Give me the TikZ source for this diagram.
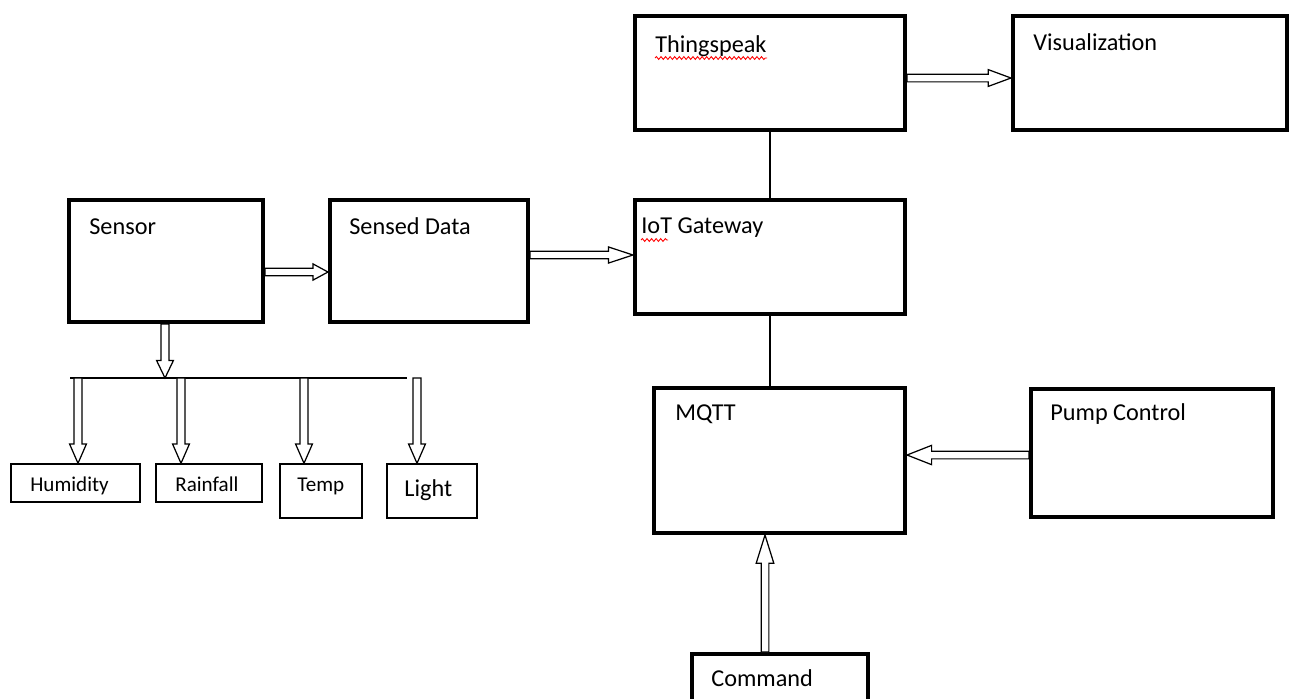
\documentclass[tikz,border=0pt]{standalone}
\usepackage{fontspec}
\setmainfont{Carlito}
\usetikzlibrary{calc,decorations.pathmorphing}
\tikzset{
  box/.style={draw, line width=2.3pt, inner sep=0pt},
  sbox/.style={draw, line width=0.8pt, inner sep=0pt},
  lbl/.style={anchor=base west, inner sep=0pt, font=\fontsize{13.8}{16}\selectfont},
  slbl/.style={anchor=base west, inner sep=0pt, font=\fontsize{12}{14}\selectfont},
  fat/.style={draw, line width=0.7pt, fill=white, line join=miter},
  link/.style={draw, line width=0.65pt},
  squig/.style={draw=red, line width=0.5pt, decorate, decoration={snake, amplitude=0.8pt, segment length=2.6pt}}
}
% from, to, shaft half width, head half width, head length
\newcommand{\fatarr}[5]{%
  \path ($(#2)!#5!(#1)$) coordinate (fa-c);
  \path[fat] ($(#1)!#3!90:(#2)$) -- ($(fa-c)!#3!90:(#2)$) -- ($(fa-c)!#4!90:(#2)$)
    -- (#2) -- ($(fa-c)!#4!-90:(#2)$) -- ($(fa-c)!#3!-90:(#2)$) -- ($(#1)!#3!-90:(#2)$) -- cycle;
}
% name, x1, y1, x2, y2 (line centre, px)
\newcommand{\bx}[6]{%
  \node[#6, minimum width={(#4-#2)*0.02cm}, minimum height={(#5-#3)*0.02cm}] (#1) at ({(#2+#4)/2},{(#3+#5)/2}) {};
}
\begin{document}
\begin{tikzpicture}[x=0.02cm, y=-0.02cm]
\useasboundingbox (0,0) rectangle (1290,698);
\clip (0,0) rectangle (1290,698);
\fill[white] (0,0) rectangle (1290,698);

% main boxes
\bx{sensor}{69}{200}{263}{322}{box}
\bx{sensed}{330}{200}{528}{322}{box}
\bx{iot}{635}{200}{905}{314}{box}
\bx{ts}{635}{16}{905}{130}{box}
\bx{vis}{1013}{16}{1287}{130}{box}
\bx{mqtt}{654}{388}{905}{533}{box}
\bx{pump}{1031}{389}{1273}{517}{box}
\bx{cmd}{692}{654}{868}{710}{box}

% small boxes
\bx{hum}{11}{464}{140}{502}{sbox}
\bx{rain}{156}{464}{262}{502}{sbox}
\bx{temp}{280}{464}{362}{518}{sbox}
\bx{light}{387}{464}{477}{518}{sbox}

% labels
\node[lbl] (tsensor) at (89,234) {Sensor};
\node[lbl] (tsensed) at (349,234) {Sensed Data};
\node[lbl] (tiot) at (641,233) {IoT Gateway};
\node[lbl] (tts) at (655,52) {Thingspeak};
\node[lbl] (tvis) at (1033,50) {Visualization};
\node[lbl] (tmqtt) at (675,420) {MQTT};
\node[lbl] (tpump) at (1050,420) {Pump Control};
\node[lbl] (tcmd) at (711,686) {Command};
\node[slbl] (thum) at (30,491) {Humidity};
\node[slbl] (train) at (175,491) {Rainfall};
\node[slbl] (ttemp) at (297,491) {Temp};
\node[lbl] (tlight) at (404,496) {Light};

% spell-check squiggles
\coordinate (sq1a) at (655,58); \coordinate (sq1b) at (767,58);
\coordinate (sq2a) at (641,240); \coordinate (sq2b) at (668,240);
\draw[squig] (sq1a) -- (sq1b);
\draw[squig] (sq2a) -- (sq2b);

% plain links
\draw[link] (ts.south) -- (iot.north);
\draw[link] (iot.south) -- (iot.south |- mqtt.north);

% bus
\coordinate (busL) at (70,378);
\coordinate (busR) at (407,378);
\draw[link] (busL) -- (busR);

% fat arrows
\fatarr{sensor.east |- 0,272}{sensed.west |- 0,272}{2.1pt}{4.6pt}{8.5pt}
\fatarr{sensed.east |- 0,255}{iot.west |- 0,255}{2.1pt}{4.6pt}{14pt}
\fatarr{ts.east |- 0,78}{vis.west |- 0,78}{2.2pt}{4.8pt}{13pt}
\fatarr{pump.west |- 0,455}{mqtt.east |- 0,455}{2.2pt}{5.5pt}{14pt}
\fatarr{765,0 |- cmd.north}{765,0 |- mqtt.south}{2.2pt}{5pt}{16pt}
\fatarr{165,0 |- sensor.south}{165,0 |- busL}{2.3pt}{4.8pt}{10pt}
\fatarr{78,0 |- busL}{78,0 |- hum.north}{2.3pt}{4.8pt}{11pt}
\fatarr{181,0 |- busL}{181,0 |- rain.north}{2.3pt}{4.8pt}{11pt}
\fatarr{304,0 |- busL}{304,0 |- temp.north}{2.3pt}{4.8pt}{11pt}
\fatarr{417,0 |- busL}{417,0 |- light.north}{2.3pt}{4.8pt}{11pt}
\end{tikzpicture}
\end{document}
